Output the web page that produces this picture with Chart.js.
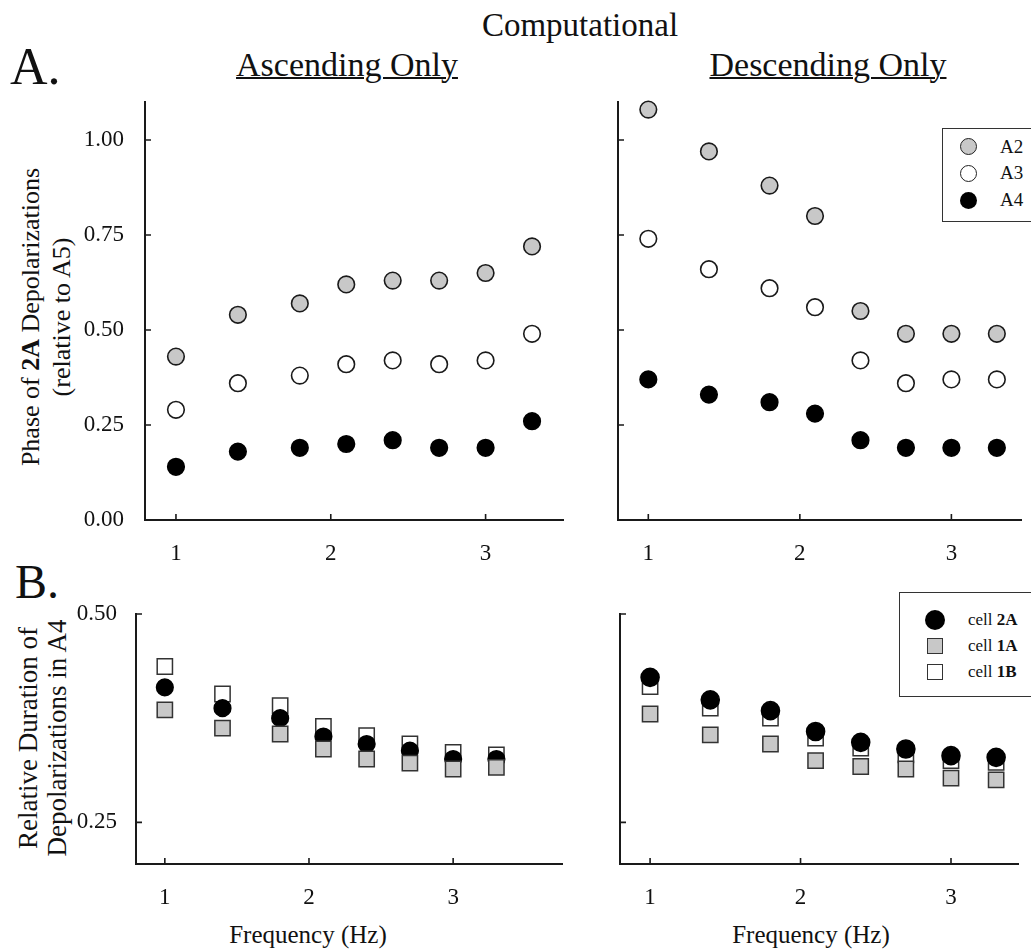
<!DOCTYPE html>
<html>
<head>
<meta charset="utf-8">
<script src="https://cdn.jsdelivr.net/npm/chart.js@4/dist/chart.umd.min.js"></script>
<style>
  body { margin: 0; background: #fff; overflow: hidden; }
  #page { position: relative; width: 1031px; height: 950px; overflow: hidden; font-family: "Liberation Serif", "Times New Roman", serif; color: #111; }
  .txt { position: absolute; white-space: nowrap; line-height: 1; }
  canvas { position: absolute; }
  .ytitle { position: absolute; text-align: center; transform: rotate(-90deg); white-space: nowrap; }
  .legend { position: absolute; border: 1.5px solid #333; background: #fff; }
  .row { position: absolute; height: 26px; display: flex; align-items: center; }
  .mk { position: absolute; box-sizing: border-box; }
</style>
</head>
<body>
<div id="page">
  <div class="txt" style="left:0;width:1160px;text-align:center;top:9px;font-size:33px;">Computational</div>
  <div class="txt" style="left:10px;top:41px;font-size:52px;">A.</div>
  <div class="txt" style="left:15px;top:558px;font-size:48px;">B.</div>
  <div class="txt" style="left:147px;width:400px;text-align:center;top:48px;font-size:34px;text-decoration:underline;text-decoration-thickness:2px;">Ascending Only</div>
  <div class="txt" style="left:628px;width:400px;text-align:center;top:48px;font-size:34px;text-decoration:underline;text-decoration-thickness:2px;">Descending Only</div>

  <div class="ytitle" style="left:-124.5px;top:286px;width:340px;font-size:26px;line-height:31px;">Phase of <b>2A</b> Depolarizations<br>(relative to A5)</div>
  <div class="ytitle" style="left:-127.5px;top:709px;width:340px;font-size:27px;line-height:29px;">Relative Duration of<br>Depolarizations in A4</div>

  <div class="txt" style="left:158px;width:300px;text-align:center;top:922px;font-size:25px;">Frequency (Hz)</div>
  <div class="txt" style="left:661px;width:300px;text-align:center;top:922px;font-size:25px;">Frequency (Hz)</div>

  <canvas id="ascPhase" width="500" height="498" style="left:75px;top:72px;"></canvas>
  <canvas id="descPhase" width="433" height="498" style="left:598px;top:72px;"></canvas>
  <canvas id="ascDur" width="509" height="330" style="left:66px;top:584px;"></canvas>
  <canvas id="descDur" width="431" height="330" style="left:600px;top:584px;"></canvas>

  <div class="legend" style="left:942px;top:128px;width:120px;height:92px;"></div>
  <div class="mk" style="left:959.5px;top:138px;width:17px;height:17px;border-radius:50%;border:1.5px solid #222;background:#c8c8c8;"></div>
  <div class="mk" style="left:959.5px;top:165px;width:17px;height:17px;border-radius:50%;border:1.5px solid #222;background:#fff;"></div>
  <div class="mk" style="left:959.5px;top:191.5px;width:17px;height:17px;border-radius:50%;background:#000;"></div>
  <div class="row" style="left:1000px;top:133.7px;font-size:19px;">A2</div>
  <div class="row" style="left:1000px;top:160.3px;font-size:19px;">A3</div>
  <div class="row" style="left:1000px;top:187px;font-size:19px;">A4</div>

  <div class="legend" style="left:899px;top:592px;width:150px;height:103px;"></div>
  <div class="mk" style="left:925px;top:610px;width:20px;height:20px;border-radius:50%;background:#000;"></div>
  <div class="mk" style="left:927px;top:638px;width:16px;height:16px;border:1.5px solid #333;background:#c8c8c8;"></div>
  <div class="mk" style="left:927px;top:664px;width:16px;height:16px;border:1.5px solid #333;background:#fff;"></div>
  <div class="row" style="left:968px;top:607px;font-size:17px;">cell&nbsp;<b>2A</b></div>
  <div class="row" style="left:968px;top:633px;font-size:17px;">cell&nbsp;<b>1A</b></div>
  <div class="row" style="left:968px;top:659px;font-size:17px;">cell&nbsp;<b>1B</b></div>
</div>

<script>
// stimulus frequencies (Hz)
const freq = [1.0, 1.4, 1.8, 2.1, 2.4, 2.7, 3.0, 3.3];

// A. phase relative to A5
const ascA2 = [0.43, 0.54, 0.57, 0.62, 0.63, 0.63, 0.65, 0.72];
const ascA3 = [0.29, 0.36, 0.38, 0.41, 0.42, 0.41, 0.42, 0.49];
const ascA4 = [0.14, 0.18, 0.19, 0.20, 0.21, 0.19, 0.19, 0.26];
const descA2 = [1.08, 0.97, 0.88, 0.80, 0.55, 0.49, 0.49, 0.49];
const descA3 = [0.74, 0.66, 0.61, 0.56, 0.42, 0.36, 0.37, 0.37];
const descA4 = [0.37, 0.33, 0.31, 0.28, 0.21, 0.19, 0.19, 0.19];

// B. relative duration in A4
const ascCell2A = [0.412, 0.387, 0.375, 0.353, 0.344, 0.336, 0.326, 0.326];
const ascCell1A = [0.385, 0.363, 0.356, 0.338, 0.326, 0.321, 0.314, 0.316];
const ascCell1B = [0.437, 0.404, 0.390, 0.365, 0.354, 0.344, 0.334, 0.331];
const descCell2A = [0.424, 0.397, 0.384, 0.359, 0.346, 0.338, 0.330, 0.328];
const descCell1A = [0.380, 0.355, 0.344, 0.324, 0.317, 0.314, 0.303, 0.301];
const descCell1B = [0.413, 0.387, 0.375, 0.351, 0.339, 0.331, 0.324, 0.322];

// tick labels
const freqTicks = [1, 2, 3];
const phaseTicks = [0, 0.25, 0.5, 0.75, 1.0];
const durTicks = [0.25, 0.5];

const GRAY = '#c8c8c8';
const INK = '#1a1a1a';

function pts(ys) {
  return ys.map((v, i) => ({x: freq[i], y: v}));
}

function circles(label, ys, fill, r, order) {
  return {
    label: label, data: pts(ys), pointStyle: 'circle', pointRadius: r,
    pointBackgroundColor: fill, pointBorderColor: fill === '#000' ? '#000' : INK,
    pointBorderWidth: 1.6, showLine: false, clip: false, order: order
  };
}

function squares(label, ys, fill, order) {
  return {
    label: label, data: pts(ys), pointStyle: 'rect', pointRadius: 10.8,
    pointBackgroundColor: fill, pointBorderColor: '#333',
    pointBorderWidth: 1.5, showLine: false, clip: false, order: order
  };
}

// small ticks pointing into the plot
const inwardTicks = {
  id: 'inwardTicks',
  afterDraw(chart) {
    const {ctx, chartArea} = chart;
    const x = chart.scales.x, y = chart.scales.y;
    ctx.save();
    ctx.strokeStyle = INK;
    ctx.lineWidth = 1.6;
    ctx.beginPath();
    x.ticks.forEach(t => {
      const px = x.getPixelForValue(t.value);
      ctx.moveTo(px, chartArea.bottom);
      ctx.lineTo(px, chartArea.bottom - 6);
    });
    y.ticks.forEach(t => {
      const py = y.getPixelForValue(t.value);
      ctx.moveTo(chartArea.left, py);
      ctx.lineTo(chartArea.left + 6, py);
    });
    ctx.stroke();
    ctx.restore();
  }
};

function makePanel(id, datasets, opt) {
  new Chart(document.getElementById(id), {
    type: 'scatter',
    data: {datasets: datasets},
    options: {
      responsive: false,
      animation: false,
      devicePixelRatio: 1,
      events: [],
      layout: {padding: {top: 30, right: opt.padRight, bottom: 0, left: 0}},
      plugins: {legend: {display: false}, tooltip: {enabled: false}},
      scales: {
        x: {
          type: 'linear', min: 0.8, max: opt.xMax,
          grid: {display: false},
          border: {display: true, color: INK, width: 2},
          afterBuildTicks: s => { s.ticks = freqTicks.map(v => ({value: v})); },
          afterFit: s => { s.height = 50; },
          ticks: {padding: 12, color: '#111', font: {family: 'Liberation Serif', size: 23}}
        },
        y: {
          type: 'linear', min: opt.yMin, max: opt.yMax,
          grid: {display: false},
          border: {display: true, color: INK, width: 2},
          afterBuildTicks: s => { s.ticks = opt.yTicks.map(v => ({value: v})); },
          afterFit: s => { s.width = opt.yWidth; },
          ticks: {
            display: opt.yLabels, padding: opt.yPad, color: '#111',
            font: {family: 'Liberation Serif', size: 23},
            callback: v => Number(v).toFixed(2)
          }
        }
      }
    },
    plugins: [inwardTicks]
  });
}

makePanel('ascPhase', [
  circles('A2', ascA2, GRAY, 8.3, 0),
  circles('A3', ascA3, '#fff', 8.3, 1),
  circles('A4', ascA4, '#000', 8.3, 2)
], {xMax: 3.5, yMin: 0, yMax: 1.1, yTicks: phaseTicks, yWidth: 70, yLabels: true, yPad: 13, padRight: 12});

makePanel('descPhase', [
  circles('A2', descA2, GRAY, 8.3, 0),
  circles('A3', descA3, '#fff', 8.3, 1),
  circles('A4', descA4, '#000', 8.3, 2)
], {xMax: 3.46, yMin: 0, yMax: 1.1, yTicks: phaseTicks, yWidth: 20, yLabels: false, yPad: 13, padRight: 0});

makePanel('ascDur', [
  squares('cell 1A', ascCell1A, GRAY, 0),
  circles('cell 2A', ascCell2A, '#000', 8.3, 1),
  squares('cell 1B', ascCell1B, '#fff', 2)
], {xMax: 3.76, yMin: 0.2, yMax: 0.5, yTicks: durTicks, yWidth: 70, yLabels: true, yPad: 11, padRight: 12});

makePanel('descDur', [
  squares('cell 1A', descCell1A, GRAY, 0),
  circles('cell 2A', descCell2A, '#000', 9, 1),
  squares('cell 1B', descCell1B, '#fff', 2)
], {xMax: 3.45, yMin: 0.2, yMax: 0.5, yTicks: durTicks, yWidth: 20, yLabels: false, yPad: 11, padRight: 0});
</script>
</body>
</html>
